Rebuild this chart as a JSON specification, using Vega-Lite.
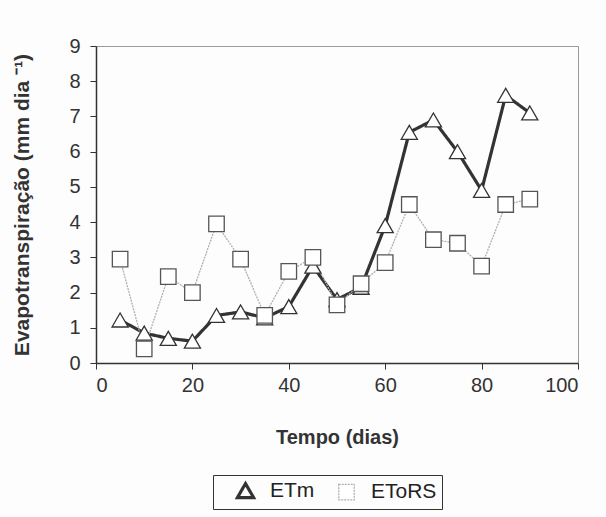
{
  "$schema": "https://vega.github.io/schema/vega-lite/v6.json",
  "width": 482,
  "height": 317,
  "autosize": "none",
  "padding": {"left": 96, "top": 46, "right": 28, "bottom": 154},
  "background": "#fdfdfd",
  "config": {
    "font": "Liberation Sans",
    "view": {"stroke": "#9a9a9a", "strokeWidth": 1},
    "axis": {"grid": false, "domainColor": "#333", "tickColor": "#333", "labelColor": "#333", "titleColor": "#333", "labelFont": "Liberation Sans", "titleFont": "Liberation Sans"}
  },
  "data": {
    "values": [
      {"dias": 5, "serie": "ETm", "et": 1.22},
      {"dias": 10, "serie": "ETm", "et": 0.85},
      {"dias": 15, "serie": "ETm", "et": 0.7},
      {"dias": 20, "serie": "ETm", "et": 0.62},
      {"dias": 25, "serie": "ETm", "et": 1.35},
      {"dias": 30, "serie": "ETm", "et": 1.45},
      {"dias": 35, "serie": "ETm", "et": 1.28},
      {"dias": 40, "serie": "ETm", "et": 1.6},
      {"dias": 45, "serie": "ETm", "et": 2.75},
      {"dias": 50, "serie": "ETm", "et": 1.8},
      {"dias": 55, "serie": "ETm", "et": 2.15},
      {"dias": 60, "serie": "ETm", "et": 3.9},
      {"dias": 65, "serie": "ETm", "et": 6.55},
      {"dias": 70, "serie": "ETm", "et": 6.9},
      {"dias": 75, "serie": "ETm", "et": 6.0},
      {"dias": 80, "serie": "ETm", "et": 4.9},
      {"dias": 85, "serie": "ETm", "et": 7.6},
      {"dias": 90, "serie": "ETm", "et": 7.1},
      {"dias": 5, "serie": "EToRS", "et": 2.95},
      {"dias": 10, "serie": "EToRS", "et": 0.4},
      {"dias": 15, "serie": "EToRS", "et": 2.45},
      {"dias": 20, "serie": "EToRS", "et": 2.0},
      {"dias": 25, "serie": "EToRS", "et": 3.95},
      {"dias": 30, "serie": "EToRS", "et": 2.95},
      {"dias": 35, "serie": "EToRS", "et": 1.35},
      {"dias": 40, "serie": "EToRS", "et": 2.6},
      {"dias": 45, "serie": "EToRS", "et": 3.0},
      {"dias": 50, "serie": "EToRS", "et": 1.65},
      {"dias": 55, "serie": "EToRS", "et": 2.25},
      {"dias": 60, "serie": "EToRS", "et": 2.85},
      {"dias": 65, "serie": "EToRS", "et": 4.5},
      {"dias": 70, "serie": "EToRS", "et": 3.5},
      {"dias": 75, "serie": "EToRS", "et": 3.4},
      {"dias": 80, "serie": "EToRS", "et": 2.75},
      {"dias": 85, "serie": "EToRS", "et": 4.5},
      {"dias": 90, "serie": "EToRS", "et": 4.65}
    ]
  },
  "encoding": {
    "x": {
      "field": "dias", "type": "quantitative",
      "scale": {"domain": [0, 100], "nice": false},
      "axis": {"values": [0, 20, 40, 60, 80, 100], "title": "Tempo (dias)", "labelFontSize": 20, "titleFontSize": 20, "titleFontWeight": "bold", "tickSize": 6, "labelPadding": 6, "titlePadding": 32, "domainWidth": 1.5}
    },
    "y": {
      "field": "et", "type": "quantitative",
      "scale": {"domain": [0, 9], "nice": false},
      "axis": {"values": [0, 1, 2, 3, 4, 5, 6, 7, 8, 9], "title": "Evapotranspiração (mm dia ⁻¹)", "labelFontSize": 20, "titleFontSize": 21, "titleFontWeight": "bold", "tickSize": 6, "labelPadding": 10, "titlePadding": 36, "domainWidth": 1.5}
    }
  },
  "layer": [
    {
      "mark": {"type": "line"},
      "encoding": {
        "color": {"field": "serie", "type": "nominal", "scale": {"domain": ["ETm", "EToRS"], "range": ["#333333", "#b0b0b0"]}},
        "strokeWidth": {"field": "serie", "type": "nominal", "scale": {"domain": ["ETm", "EToRS"], "range": [3.2, 1.3]}},
        "strokeDash": {"field": "serie", "type": "nominal", "scale": {"domain": ["ETm", "EToRS"], "range": [[1, 0], [2, 1]]}}
      }
    },
    {
      "mark": {"type": "point", "filled": true, "fill": "white", "strokeWidth": 1.3, "opacity": 1},
      "encoding": {
        "shape": {"field": "serie", "type": "nominal", "scale": {"domain": ["ETm", "EToRS"], "range": ["triangle-up", "square"]},
          "legend": {"title": null, "orient": "none", "legendX": 117, "legendY": 429, "direction": "horizontal", "labelFontSize": 21, "labelColor": "#222", "strokeColor": "#333", "padding": 5, "symbolSize": 100, "symbolStrokeWidth": 1.3, "symbolFillColor": "white", "symbolStrokeColor": "#444", "columnPadding": 4, "symbolOffset": 17, "labelOffset": 14}},
        "stroke": {"field": "serie", "type": "nominal", "scale": {"domain": ["ETm", "EToRS"], "range": ["#333333", "#555555"]}},
        "size": {"field": "serie", "type": "nominal", "scale": {"domain": ["ETm", "EToRS"], "range": [260, 240]}}
      }
    }
  ]
}
